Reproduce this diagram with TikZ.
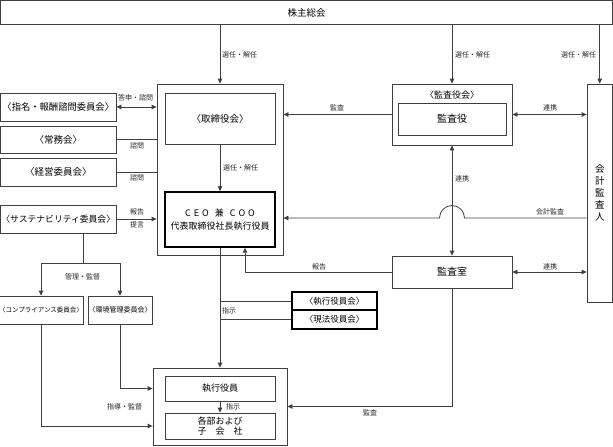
\documentclass[tikz,border=0pt]{standalone}
\usepackage{fontspec}
\setmainfont{Noto Sans CJK JP}
\usetikzlibrary{arrows.meta}
\definecolor{lc}{HTML}{404040}
\begin{document}
\begin{tikzpicture}[x=1pt,y=-1pt,
  bx/.style={draw=lc,line width=0.8pt,inner sep=0pt,align=center,font=\fontsize{9.5}{11.5}\selectfont},
  tbx/.style={bx,draw=black,line width=1.4pt},
  lbl/.style={font=\fontsize{7}{8}\selectfont,inner sep=0pt,anchor=west,text=black!85},
  ln/.style={draw=lc,line width=0.8pt},
  arr/.style={ln,-{Triangle[length=5pt,width=4.5pt]}},
  darr/.style={ln,{Triangle[length=5pt,width=4.5pt]}-{Triangle[length=5pt,width=4.5pt]}}]
\useasboundingbox (0,0) rectangle (613,447);
% boxes
\node[bx,minimum width=612,minimum height=24] (sh) at (306.5,12.5) {株主総会};
\node[bx,minimum width=126,minimum height=171] (board) at (220,169.5) {};
\node[bx,minimum width=110,minimum height=51] (tori) at (220,118.5) {〈取締役会〉};
\node[tbx,minimum width=110,minimum height=55,font=\fontsize{9}{13}\selectfont] (ceo) at (220,219.5)
  {C\hspace{3pt}E\hspace{3pt}O\hspace{6pt}兼\hspace{6pt}C\hspace{3pt}O\hspace{3pt}O\\代表取締役社長執行役員};
\node[bx,minimum width=115.5,minimum height=28,font=\fontsize{9.3}{11}\selectfont] (shimei) at (58.25,107) {〈指名・報酬諮問委員会〉};
\node[bx,minimum width=115.5,minimum height=27] (jomu) at (58.25,139.5) {〈常務会〉};
\node[bx,minimum width=115.5,minimum height=28] (keiei) at (58.25,172) {〈経営委員会〉};
\node[bx,minimum width=115.5,minimum height=28,font=\fontsize{8.8}{10.5}\selectfont] (sust) at (58.25,219) {〈サステナビリティ委員会〉};
\node[bx,minimum width=81,minimum height=28,font=\fontsize{6.5}{7.5}\selectfont] (comp) at (41,310) {〈コンプライアンス委員会〉};
\node[bx,minimum width=64,minimum height=28,font=\fontsize{7}{8}\selectfont] (kankyo) at (120,310) {〈環境管理委員会〉};
\node[bx,minimum width=120,minimum height=61] (kyk) at (452,114.5) {};
\node[font=\fontsize{9}{10}\selectfont,inner sep=0pt] (kykt) at (452,95) {〈監査役会〉};
\node[bx,minimum width=108,minimum height=32,font=\fontsize{10}{12}\selectfont] (ky) at (452,119) {監査役};
\node[bx,minimum width=25.5,minimum height=218,font=\fontsize{9.5}{12}\selectfont] (kaikei) at (599.75,193) {会\\計\\監\\査\\人};
\node[bx,minimum width=120,minimum height=32,font=\fontsize{10}{12}\selectfont] (kst) at (452,272) {監査室};
\node[tbx,minimum width=85,minimum height=18,font=\fontsize{8.5}{10}\selectfont] (ekk) at (334.5,301) {〈執行役員会〉};
\node[tbx,minimum width=85,minimum height=19,font=\fontsize{8.5}{10}\selectfont] (gpk) at (334.5,319.5) {〈現法役員会〉};
\node[bx,minimum width=134,minimum height=77] (bot) at (220,406.5) {};
\node[bx,minimum width=110,minimum height=25,font=\fontsize{9}{11}\selectfont] (syi) at (220,388.5) {執行役員};
\node[bx,minimum width=110,minimum height=26,font=\fontsize{9}{9.5}\selectfont] (kkb) at (220,426) {各部および\\子　会　社};
% connectors
\draw[arr] (sh.south -| board.north) -- (board.north);
\draw[arr] (sh.south -| kyk.north) -- (kyk.north);
\draw[arr] (sh.south -| kaikei.north) -- (kaikei.north);
\draw[darr] (shimei.east) -- (shimei.east -| board.west);
\draw[ln] (jomu.east) -- (jomu.east -| board.west);
\draw[ln] (keiei.east) -- (keiei.east -| board.west);
\draw[arr] (sust.east) -- (sust.east -| board.west);
\draw[arr] (tori.south) -- (ceo.north);
\draw[arr] (kyk.west) -- (kyk.west -| board.east);
\draw[darr] (kyk.east) -- (kyk.east -| kaikei.west);
\draw[darr] (kyk.south) -- (kst.north);
\coordinate (hopc) at (452,218);
\draw[arr] (hopc -| kaikei.west) -- ([xshift=12.5pt]hopc) arc[start angle=0,end angle=180,radius=12.5pt] -- (hopc -| board.east);
\draw[darr] (kst.east) -- (kst.east -| kaikei.west);
\draw[arr] (kst.west) -| ([xshift=25pt]ceo.south);
\draw[arr] (kst.south) |- (bot.east);
\draw[arr] (ceo.south) -- (bot.north);
\draw[ln] (ekk.west -| ceo.south) -- (ekk.west);
\draw[ln] (gpk.west -| ceo.south) -- (gpk.west);
\draw[arr] (syi.south) -- (kkb.north);
\coordinate (split) at (83,263);
\draw[ln] (sust.south -| split) -- (split);
\draw[arr] (split) -| (comp.north);
\draw[arr] (split) -| (kankyo.north);
\draw[arr] (comp.south) |- (bot.west |- kkb.west);
\draw[arr] (kankyo.south) |- (bot.west |- syi.west);
% labels
\node[lbl] (l1) at (222,55) {選任・解任};
\node[lbl] (l2) at (455,55) {選任・解任};
\node[lbl] (l3) at (561,55) {選任・解任};
\node[lbl] (l4) at (118,98) {答申・諮問};
\node[lbl] (l5) at (130,146) {諮問};
\node[lbl] (l6) at (130,178) {諮問};
\node[lbl] (l7) at (130,212) {報告};
\node[lbl] (l8) at (130,225) {提言};
\node[lbl] (l9) at (223,168) {選任・解任};
\node[lbl] (l10) at (330,108) {監査};
\node[lbl] (l11) at (543,108) {連携};
\node[lbl] (l12) at (455,179) {連携};
\node[lbl] (l13) at (536,212) {会計監査};
\node[lbl] (l14) at (312,267) {報告};
\node[lbl] (l15) at (543,267) {連携};
\node[lbl] (l16) at (363,413) {監査};
\node[lbl] (l17) at (222,311) {指示};
\node[lbl] (l18) at (226,407) {指示};
\node[lbl] (l19) at (65,277) {管理・監督};
\node[lbl] (l20) at (107,407) {指導・監督};
\end{tikzpicture}
\end{document}
